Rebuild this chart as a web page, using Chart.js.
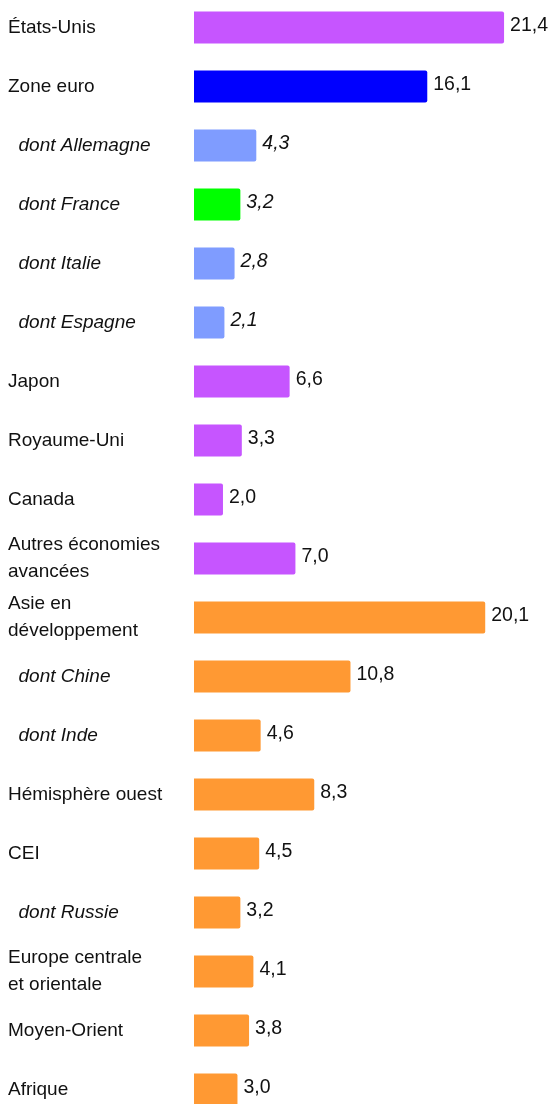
<!DOCTYPE html>
<html lang="fr">
<head>
    <meta charset="UTF-8">
    <title>Contributions à la croissance mondiale</title>
    <script src="https://cdn.jsdelivr.net/npm/chart.js"></script>
    <style>
        body { margin: 0; background: #fff; overflow: hidden; }
        #wrap { position: relative; width: 551px; height: 1121px; margin-top: -2px; }
    </style>
</head>
<body>
    <div id="wrap"><canvas id="growthChart"></canvas></div>

    <script>
        // Categories, values and bar colours
        const labels = [
            'États-Unis', 'Zone euro', 'dont Allemagne', 'dont France', 'dont Italie', 'dont Espagne',
            'Japon', 'Royaume-Uni', 'Canada', ['Autres économies', 'avancées'],
            ['Asie en', 'développement'], 'dont Chine', 'dont Inde', 'Hémisphère ouest', 'CEI',
            'dont Russie', ['Europe centrale', 'et orientale'], 'Moyen-Orient', 'Afrique'
        ];
        const values = [21.4, 16.1, 4.3, 3.2, 2.8, 2.1, 6.6, 3.3, 2.0, 7.0,
                        20.1, 10.8, 4.6, 8.3, 4.5, 3.2, 4.1, 3.8, 3.0];
        const PURPLE = '#c655ff', BLUE = '#0000ff', LIGHTBLUE = '#7f9cff', GREEN = '#00ff00', ORANGE = '#ff9933';
        const colors = [PURPLE, BLUE, LIGHTBLUE, GREEN, LIGHTBLUE, LIGHTBLUE, PURPLE, PURPLE, PURPLE, PURPLE,
                        ORANGE, ORANGE, ORANGE, ORANGE, ORANGE, ORANGE, ORANGE, ORANGE, ORANGE];
        const italicValues = [2, 3, 4, 5]; // euro area members have italic value labels

        const isSub = (l) => typeof l === 'string' && l.startsWith('dont ');
        const FONT = "'Liberation Sans', Arial, sans-serif";

        // write value at the end of each bar
        const valueLabels = {
            id: 'valueLabels',
            afterDatasetsDraw(chart) {
                const ctx = chart.ctx;
                const meta = chart.getDatasetMeta(0);
                ctx.save();
                ctx.fillStyle = '#111';
                ctx.textBaseline = 'middle';
                ctx.textAlign = 'left';
                meta.data.forEach((bar, i) => {
                    const style = italicValues.includes(i) ? 'italic ' : '';
                    ctx.font = style + '19.5px ' + FONT;
                    ctx.fillText(values[i].toFixed(1).replace('.', ','), bar.x + 6, bar.y - 2);
                });
                ctx.restore();
            }
        };

        new Chart(document.getElementById('growthChart'), {
            type: 'bar',
            data: {
                labels: labels.map(l => isSub(l) ? '  ' + l : l),
                datasets: [{
                    data: values,
                    backgroundColor: colors,
                    borderWidth: 0,
                    borderRadius: 2,
                    categoryPercentage: 1,
                    barPercentage: 0.542
                }]
            },
            plugins: [valueLabels],
            options: {
                indexAxis: 'y',
                responsive: true,
                maintainAspectRatio: false,
                animation: false,
                layout: { padding: { left: 8, right: 0, top: 0, bottom: 0 } },
                plugins: { legend: { display: false }, tooltip: { enabled: false } },
                scales: {
                    x: { display: false, min: 0, max: 24.64 },
                    y: {
                        grid: { display: false },
                        border: { display: false },
                        afterFit(scale) {
                            scale.width = 186;
                            // labels sit inside their rows, no extra room needed above/below
                            scale.paddingTop = 0;
                            scale.paddingBottom = 0;
                        },
                        ticks: {
                            crossAlign: 'far',
                            color: '#111',
                            autoSkip: false,
                            font: (c) => ({
                                family: FONT,
                                size: 19,
                                lineHeight: 1.42,
                                style: isSub(labels[c.index]) ? 'italic' : 'normal'
                            })
                        }
                    }
                }
            }
        });
    </script>
</body>
</html>
